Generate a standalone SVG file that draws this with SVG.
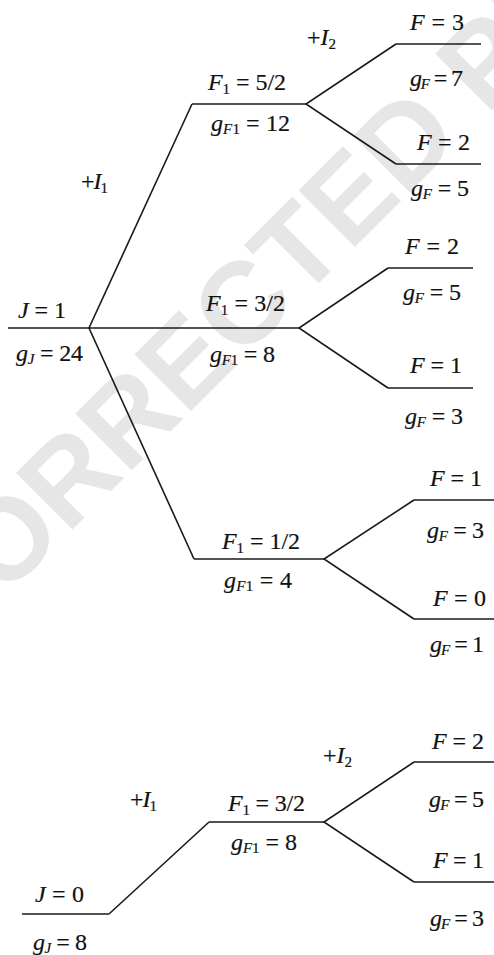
<svg xmlns="http://www.w3.org/2000/svg" width="494" height="955" viewBox="0 0 494 955">
<style>
.bg{fill:#ffffff}
.wm{fill:#e6e6e6;font-family:"Liberation Sans",Arial,sans-serif;font-weight:bold;font-size:116px}
.lv{stroke:#1a1a1a;stroke-width:1.6;fill:none}
.cn{stroke:#1a1a1a;stroke-width:1.6;fill:none;stroke-linejoin:miter}
text.t{font-family:"Liberation Serif","Times New Roman",serif;font-size:24px;fill:#111111;stroke:#111111;stroke-width:0.2}
.i{font-style:italic}
.s{font-size:15px}
</style>
<rect class="bg" x="0" y="0" width="494" height="955"/>
<text class="wm" transform="translate(-56,658) rotate(-45)">CORRECTED PROOF</text>

<g id="connectors">
<polyline class="cn" points="192,104 89,328 194,559"/>
<polyline class="cn" points="396,44 306,104 396,164"/>
<polyline class="cn" points="388,268 299,328 388,388"/>
<polyline class="cn" points="414,500 324,559 414,619"/>
<polyline class="cn" points="109,914 209,822"/>
<polyline class="cn" points="414,762 324,822 414,882"/>
<text class="t" x="81" y="189" textLength="27"><tspan>+</tspan><tspan class="i">I</tspan><tspan class="s" dy="4">1</tspan></text>
<text class="t" x="307" y="45" textLength="29"><tspan>+</tspan><tspan class="i">I</tspan><tspan class="s" dy="4">2</tspan></text>
<text class="t" x="130" y="807" textLength="27"><tspan>+</tspan><tspan class="i">I</tspan><tspan class="s" dy="4">1</tspan></text>
<text class="t" x="323" y="763" textLength="29"><tspan>+</tspan><tspan class="i">I</tspan><tspan class="s" dy="4">2</tspan></text>
</g>

<g id="J1">
<line class="lv" x1="8" y1="328" x2="89" y2="328"/>
<text class="t" x="18" y="318" textLength="48"><tspan class="i">J</tspan> = 1</text>
<text class="t" x="16" y="361" textLength="67"><tspan class="i">g</tspan><tspan class="s i" dy="3">J</tspan><tspan dy="-3"> = 24</tspan></text>
</g>

<g id="F1_52">
<line class="lv" x1="192" y1="104" x2="306" y2="104"/>
<text class="t" x="208" y="90" textLength="78"><tspan class="i">F</tspan><tspan class="s" dy="4">1</tspan><tspan dy="-4"> = 5/2</tspan></text>
<text class="t" x="211" y="131" textLength="79"><tspan class="i">g</tspan><tspan class="s i" dy="3">F</tspan><tspan class="s">1</tspan><tspan dy="-3"> = 12</tspan></text>
</g>

<g id="F1_32">
<line class="lv" x1="89" y1="328" x2="299" y2="328"/>
<text class="t" x="206" y="311" textLength="79"><tspan class="i">F</tspan><tspan class="s" dy="4">1</tspan><tspan dy="-4"> = 3/2</tspan></text>
<text class="t" x="210" y="362" textLength="65"><tspan class="i">g</tspan><tspan class="s i" dy="3">F</tspan><tspan class="s">1</tspan><tspan dy="-3"> = 8</tspan></text>
</g>

<g id="F1_12">
<line class="lv" x1="194" y1="559" x2="324" y2="559"/>
<text class="t" x="222" y="549" textLength="78"><tspan class="i">F</tspan><tspan class="s" dy="4">1</tspan><tspan dy="-4"> = 1/2</tspan></text>
<text class="t" x="224" y="588" textLength="68"><tspan class="i">g</tspan><tspan class="s i" dy="3">F</tspan><tspan class="s">1</tspan><tspan dy="-3"> = 4</tspan></text>
</g>

<g id="F3_a">
<line class="lv" x1="396" y1="44" x2="481" y2="44"/>
<text class="t" x="410" y="30" textLength="54"><tspan class="i">F</tspan> = 3</text>
<text class="t" x="410" y="86" textLength="53"><tspan class="i">g</tspan><tspan class="s i" dy="3">F</tspan><tspan dy="-3"> = 7</tspan></text>
</g>

<g id="F2_a">
<line class="lv" x1="396" y1="164" x2="481" y2="164"/>
<text class="t" x="417" y="150" textLength="53"><tspan class="i">F</tspan> = 2</text>
<text class="t" x="411" y="196" textLength="58"><tspan class="i">g</tspan><tspan class="s i" dy="3">F</tspan><tspan dy="-3"> = 5</tspan></text>
</g>

<g id="F2_b">
<line class="lv" x1="388" y1="268" x2="473" y2="268"/>
<text class="t" x="405" y="254" textLength="54"><tspan class="i">F</tspan> = 2</text>
<text class="t" x="403" y="300" textLength="58"><tspan class="i">g</tspan><tspan class="s i" dy="3">F</tspan><tspan dy="-3"> = 5</tspan></text>
</g>

<g id="F1_b">
<line class="lv" x1="388" y1="388" x2="473" y2="388"/>
<text class="t" x="410" y="373" textLength="52"><tspan class="i">F</tspan> = 1</text>
<text class="t" x="405" y="424" textLength="58"><tspan class="i">g</tspan><tspan class="s i" dy="3">F</tspan><tspan dy="-3"> = 3</tspan></text>
</g>

<g id="F1_c">
<line class="lv" x1="414" y1="500" x2="494" y2="500"/>
<text class="t" x="430" y="486" textLength="52"><tspan class="i">F</tspan> = 1</text>
<text class="t" x="427" y="538" textLength="57"><tspan class="i">g</tspan><tspan class="s i" dy="3">F</tspan><tspan dy="-3"> = 3</tspan></text>
</g>

<g id="F0_c">
<line class="lv" x1="414" y1="619" x2="494" y2="619"/>
<text class="t" x="433" y="606" textLength="53"><tspan class="i">F</tspan> = 0</text>
<text class="t" x="430" y="652" textLength="54"><tspan class="i">g</tspan><tspan class="s i" dy="3">F</tspan><tspan dy="-3"> = 1</tspan></text>
</g>

<g id="J0">
<line class="lv" x1="22" y1="914" x2="109" y2="914"/>
<text class="t" x="35" y="902" textLength="49"><tspan class="i">J</tspan> = 0</text>
<text class="t" x="33" y="950" textLength="54"><tspan class="i">g</tspan><tspan class="s i" dy="3">J</tspan><tspan dy="-3"> = 8</tspan></text>
</g>

<g id="F1_32_b">
<line class="lv" x1="209" y1="822" x2="324" y2="822"/>
<text class="t" x="228" y="811" textLength="77"><tspan class="i">F</tspan><tspan class="s" dy="4">1</tspan><tspan dy="-4"> = 3/2</tspan></text>
<text class="t" x="231" y="850" textLength="66"><tspan class="i">g</tspan><tspan class="s i" dy="3">F</tspan><tspan class="s">1</tspan><tspan dy="-3"> = 8</tspan></text>
</g>

<g id="F2_d">
<line class="lv" x1="414" y1="762" x2="494" y2="762"/>
<text class="t" x="432" y="749" textLength="52"><tspan class="i">F</tspan> = 2</text>
<text class="t" x="429" y="807" textLength="55"><tspan class="i">g</tspan><tspan class="s i" dy="3">F</tspan><tspan dy="-3"> = 5</tspan></text>
</g>

<g id="F1_d">
<line class="lv" x1="414" y1="882" x2="494" y2="882"/>
<text class="t" x="433" y="868" textLength="51"><tspan class="i">F</tspan> = 1</text>
<text class="t" x="430" y="926" textLength="54"><tspan class="i">g</tspan><tspan class="s i" dy="3">F</tspan><tspan dy="-3"> = 3</tspan></text>
</g>
</svg>
